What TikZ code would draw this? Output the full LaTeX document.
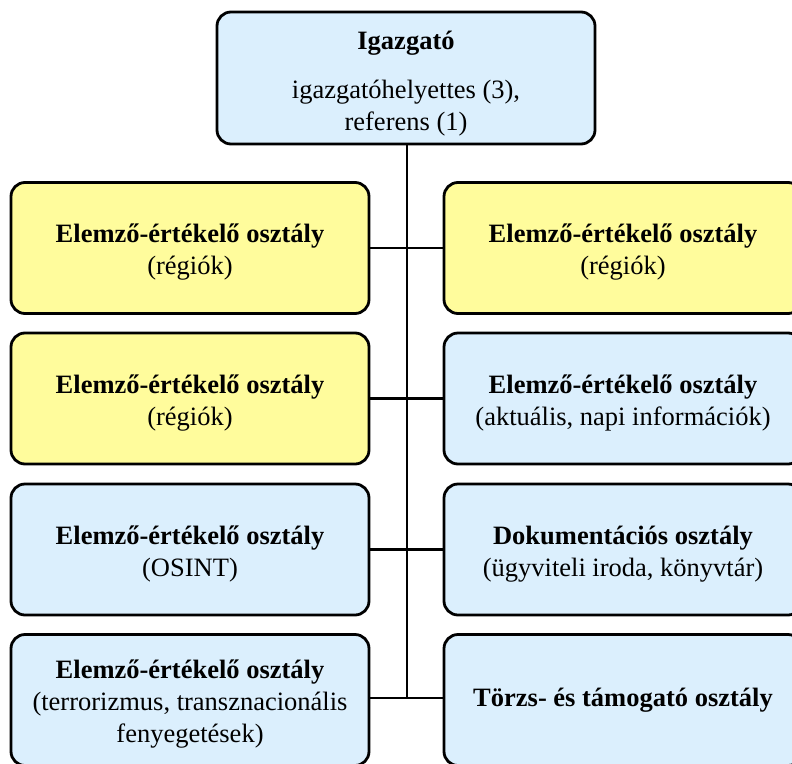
\documentclass[tikz,border=0pt]{standalone}
\usepackage{fontspec}
\setmainfont{Liberation Serif}
\definecolor{boxblue}{HTML}{DBEFFD}
\definecolor{boxyellow}{HTML}{FFFC9C}
\newcommand{\topstrut}{\rule{0pt}{27pt}}
\begin{document}
\begin{tikzpicture}[x=1pt,y=-1pt,
  box/.style={draw=black, line width=2.8pt, rounded corners=14pt, align=center,
    minimum width=358pt, minimum height=131pt, inner sep=0pt,
    font=\fontsize{26.5}{32}\selectfont},
  bluebox/.style={box, fill=boxblue},
  yellowbox/.style={box, fill=boxyellow},
  conn/.style={draw=black, line width=2.8pt}]
\useasboundingbox (0,0) rectangle (792,763);
% top
\node[bluebox, minimum width=378pt, minimum height=132pt] (top) at (406,78)
  {\rule{0pt}{30pt}\textbf{Igazgató}\\[17pt]igazgatóhelyettes (3),\\referens (1)};
% rows
\node[yellowbox] (l1) at (190,248) {\topstrut\textbf{Elemző-értékelő osztály}\\(régiók)};
\node[yellowbox] (r1) at (623,248) {\topstrut\textbf{Elemző-értékelő osztály}\\(régiók)};
\node[yellowbox] (l2) at (190,398.5) {\topstrut\textbf{Elemző-értékelő osztály}\\(régiók)};
\node[bluebox] (r2) at (623,398.5) {\topstrut\textbf{Elemző-értékelő osztály}\\(aktuális, napi információk)};
\node[bluebox] (l3) at (190,549.5) {\topstrut\textbf{Elemző-értékelő osztály}\\(OSINT)};
\node[bluebox] (r3) at (623,549.5) {\topstrut\textbf{Dokumentációs osztály}\\(ügyviteli iroda, könyvtár)};
\node[bluebox] (l4) at (190,700) {\topstrut\textbf{Elemző-értékelő osztály}\\(terrorizmus, transznacionális\\fenyegetések)};
\node[bluebox] (r4) at (623,700) {\textbf{Törzs- és támogató osztály}};
% connectors
\coordinate (bot) at (407,698);
\draw[conn] (top.south -| bot) -- (bot);
\draw[conn] (l1.east) -- (r1.west);
\draw[conn] (l2.east) -- (r2.west);
\draw[conn] (l3.east) -- (r3.west);
\draw[conn] (l4.east |- bot) -- (r4.west |- bot);
\end{tikzpicture}
\end{document}
